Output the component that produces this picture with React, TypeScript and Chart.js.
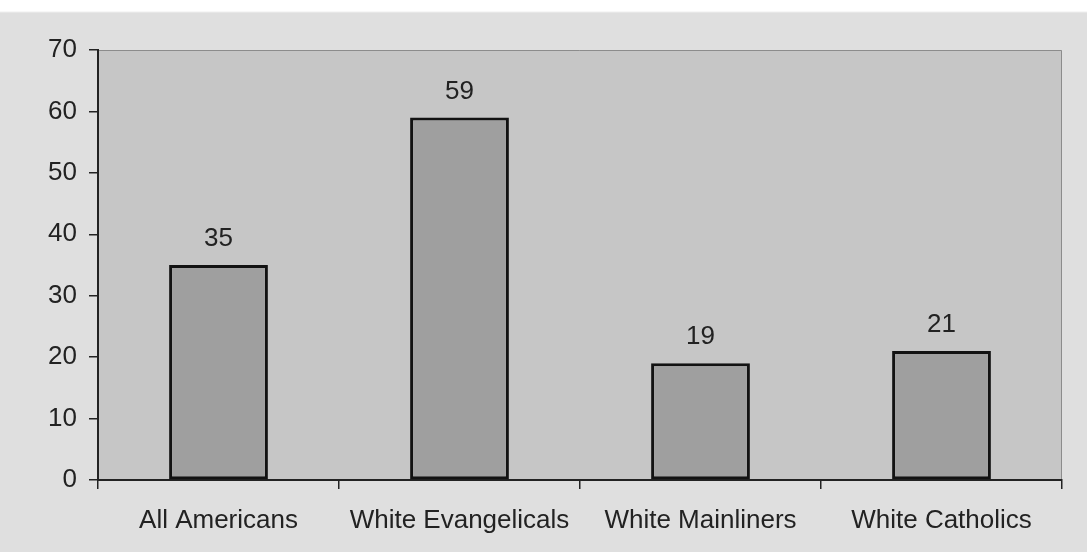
import React, { useEffect, useRef } from "react";
import { Chart, registerables } from "chart.js";

Chart.register(...registerables);

const categories = ["All Americans", "White Evangelicals", "White Mainliners", "White Catholics"];
const values = [35, 59, 19, 21];
const yTicks = [0, 10, 20, 30, 40, 50, 60, 70];

const FONT = "'Liberation Sans', Arial, sans-serif";
const FONT_SIZE = 26;

// Shades the plot area and draws its thin top/right frame.
const plotBackground = {
  id: "plotBackground",
  beforeDraw(chart: any) {
    const { ctx, chartArea } = chart;
    ctx.save();
    ctx.fillStyle = "#c6c6c6";
    ctx.fillRect(chartArea.left, chartArea.top, chartArea.right - chartArea.left, chartArea.bottom - chartArea.top);
    ctx.strokeStyle = "#8c8c8c";
    ctx.lineWidth = 1;
    ctx.beginPath();
    ctx.moveTo(chartArea.left, chartArea.top + 0.5);
    ctx.lineTo(chartArea.right - 0.5, chartArea.top + 0.5);
    ctx.lineTo(chartArea.right - 0.5, chartArea.bottom);
    ctx.stroke();
    ctx.restore();
  },
};

// Writes each bar's value above it.
const valueLabels = {
  id: "valueLabels",
  afterDatasetsDraw(chart: any) {
    const { ctx } = chart;
    const meta = chart.getDatasetMeta(0);
    ctx.save();
    ctx.font = `${FONT_SIZE}px ${FONT}`;
    ctx.fillStyle = "#222";
    ctx.textAlign = "center";
    ctx.textBaseline = "middle";
    meta.data.forEach((bar: any, i: number) => {
      ctx.fillText(String(values[i]), bar.x, bar.y - 26);
    });
    ctx.restore();
  },
};

export default function App() {
  const canvasRef = useRef<HTMLCanvasElement | null>(null);

  useEffect(() => {
    document.body.style.margin = "0";
    const chart = new Chart(canvasRef.current as HTMLCanvasElement, {
      type: "bar",
      data: {
        labels: categories,
        datasets: [
          {
            data: values,
            backgroundColor: "#9f9f9f",
            borderColor: "#121212",
            borderWidth: 3,
            borderSkipped: false,
            barPercentage: 0.41,
            categoryPercentage: 1,
          },
        ],
      },
      options: {
        animation: false,
        responsive: false,
        events: [],
        layout: { padding: { top: 50, right: 25, left: 0, bottom: 0 } },
        plugins: { legend: { display: false }, tooltip: { enabled: false } },
        scales: {
          x: {
            offset: true,
            grid: { offset: true, drawOnChartArea: false, tickLength: 9, color: "#222", lineWidth: 1.5 },
            border: { display: true, color: "#222", width: 2 },
            ticks: { font: { size: FONT_SIZE, family: FONT }, color: "#222", padding: 16, maxRotation: 0 },
            afterFit(scale: any) {
              scale.height = 72;
            },
          },
          y: {
            min: 0,
            max: 70,
            afterBuildTicks(scale: any) {
              scale.ticks = yTicks.map((v) => ({ value: v }));
            },
            grid: { drawOnChartArea: false, tickLength: 9, color: "#222", lineWidth: 1.5 },
            border: { display: true, color: "#222", width: 2 },
            ticks: { font: { size: FONT_SIZE, family: FONT }, color: "#222", padding: 12 },
            afterFit(scale: any) {
              scale.width = 98;
            },
          },
        },
      },
      plugins: [plotBackground, valueLabels],
    });
    return () => chart.destroy();
  }, []);

  return (
    <div
      style={{
        position: "relative",
        width: 1087,
        height: 552,
        background: "linear-gradient(#ffffff 0px, #ffffff 11px, #dfdfdf 13px, #dfdfdf 100%)",
      }}
    >
      <canvas ref={canvasRef} width={1087} height={552} style={{ display: "block" }} />
    </div>
  );
}
